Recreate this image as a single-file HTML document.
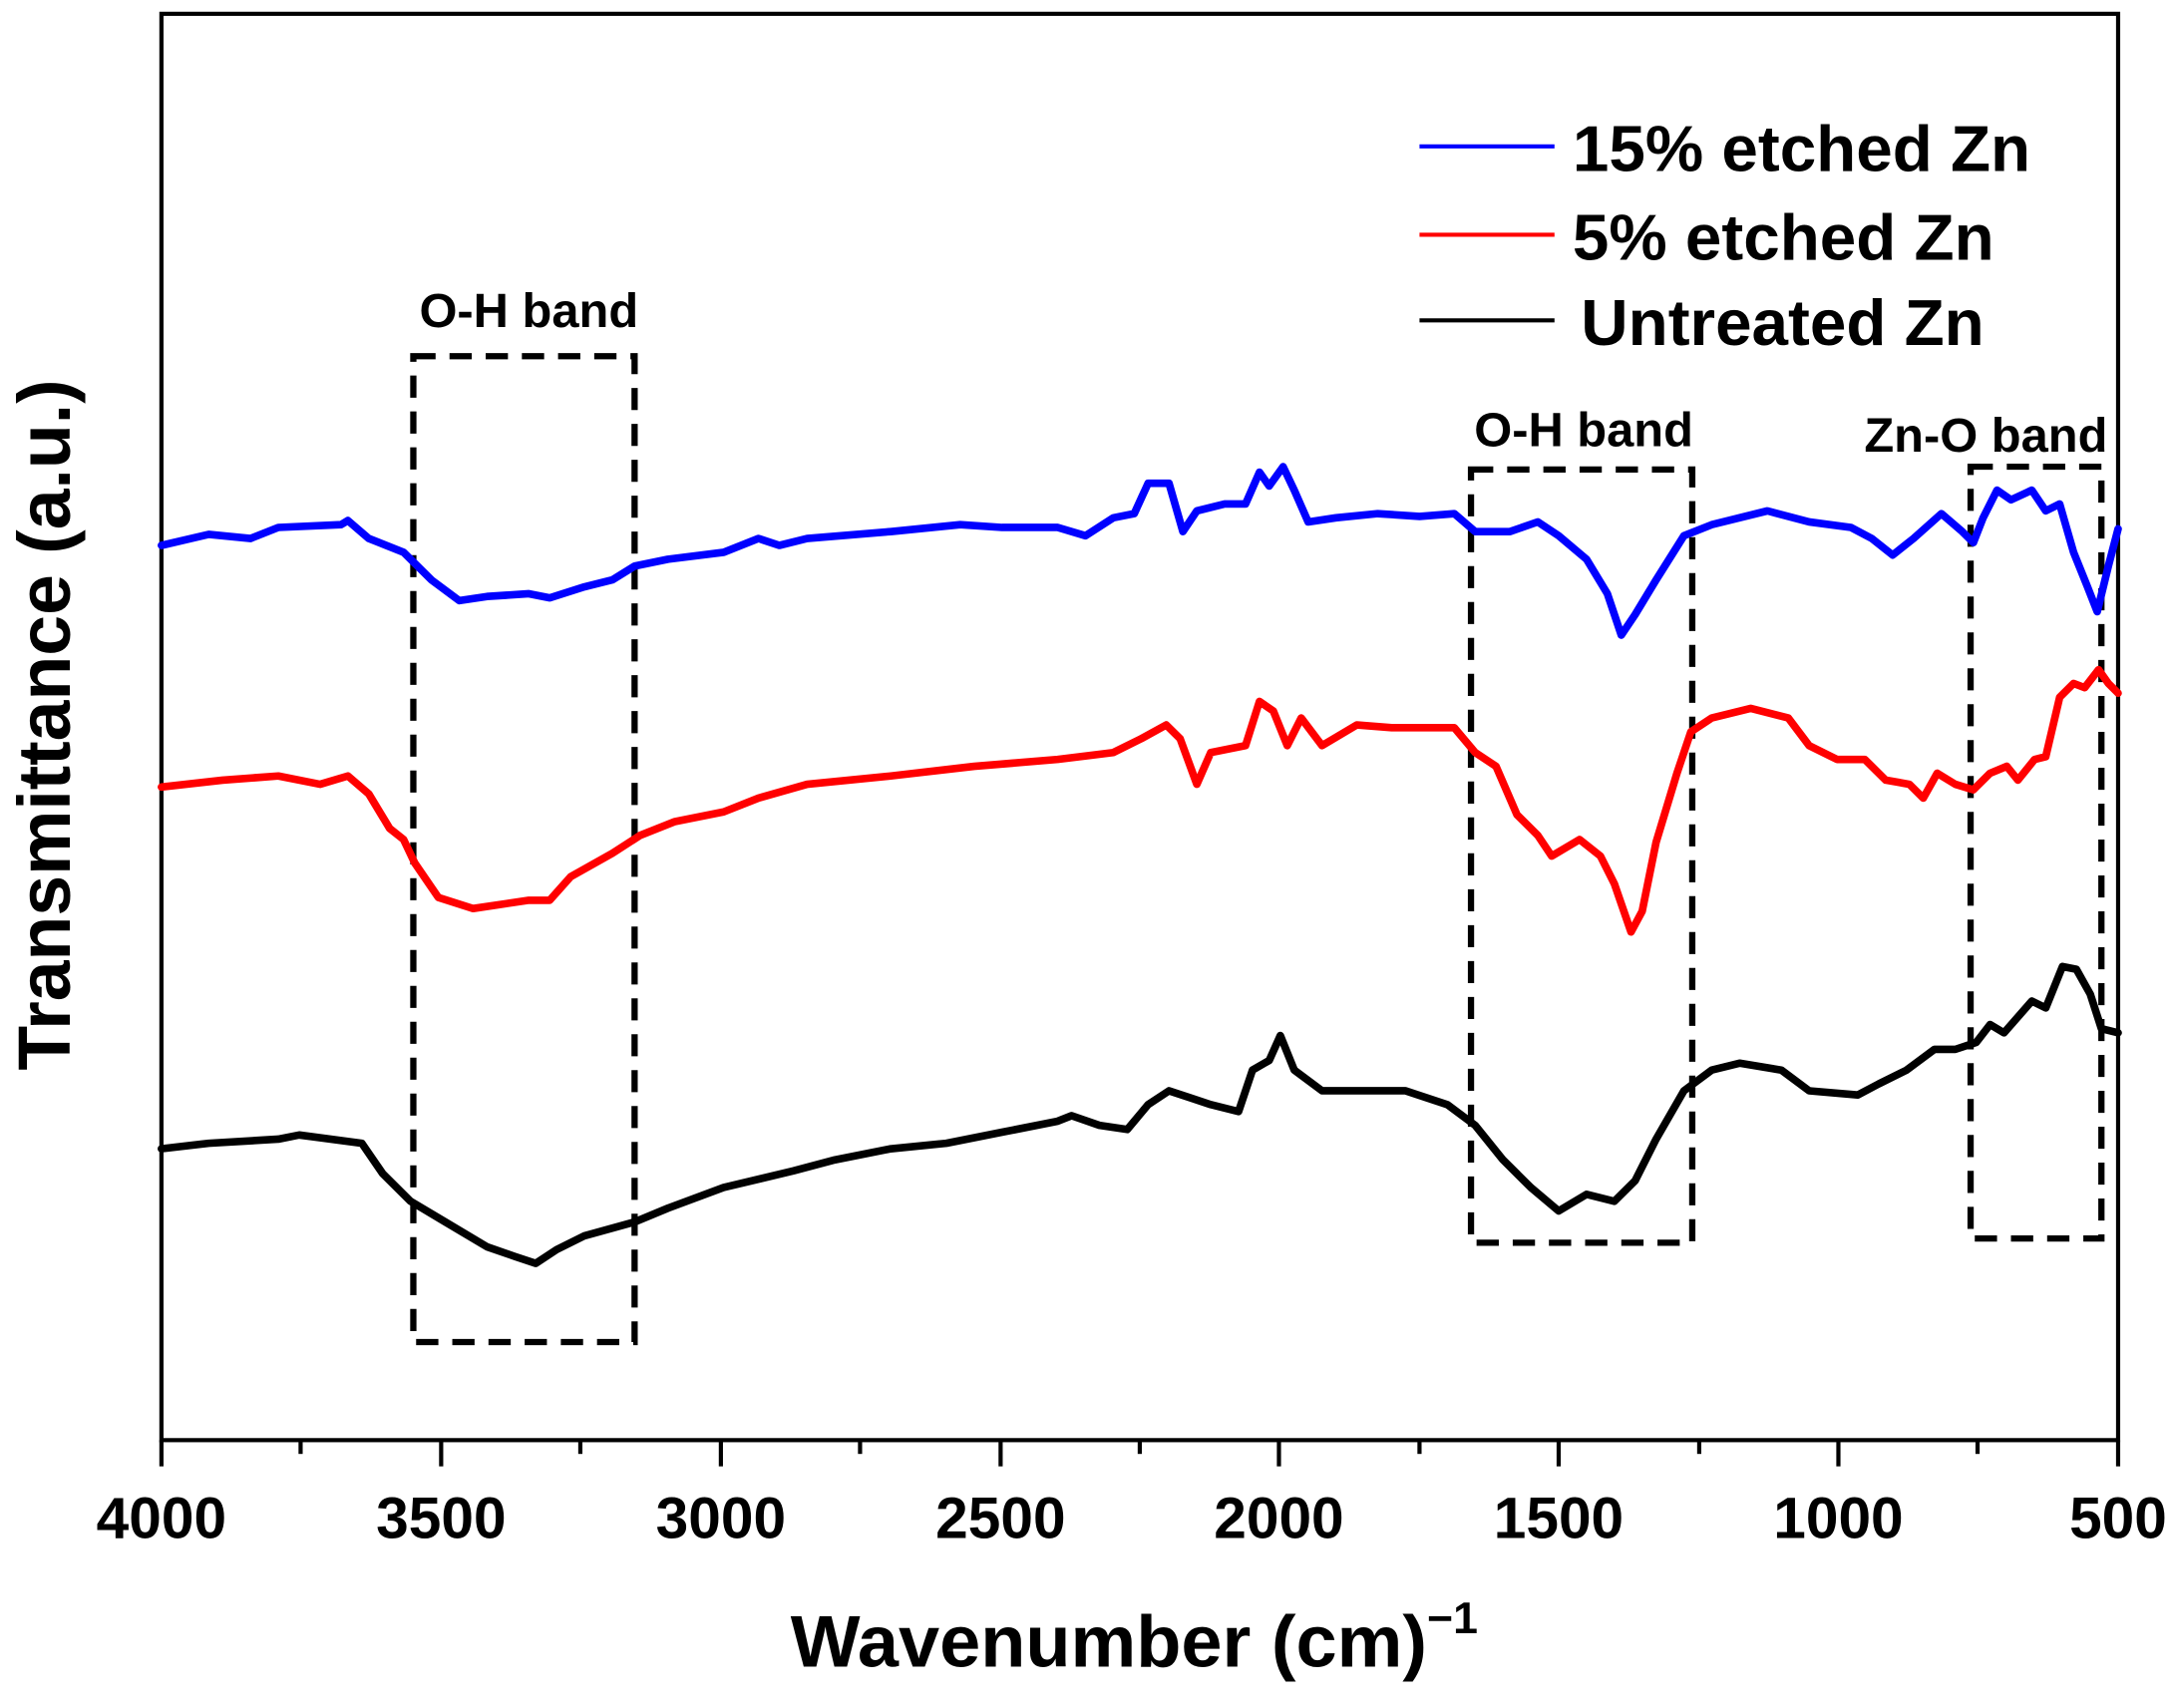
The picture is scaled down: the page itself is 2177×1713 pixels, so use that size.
<!DOCTYPE html>
<html><head><meta charset="utf-8"><style>html,body{margin:0;padding:0;background:#fff;}svg{display:block}</style></head>
<body>
<svg width="2177" height="1713" viewBox="0 0 1560 1237" preserveAspectRatio="none" xmlns="http://www.w3.org/2000/svg" font-family="Liberation Sans, Arial, sans-serif" font-weight="bold">
<rect width="1560" height="1237" fill="#fff"/>
<rect x="116" y="10" width="1406" height="1033" fill="none" stroke="#000" stroke-width="3"/>
<g stroke="#000" stroke-width="3">
<line x1="116" y1="1043" x2="116" y2="1062"/><line x1="317" y1="1043" x2="317" y2="1062"/><line x1="518" y1="1043" x2="518" y2="1062"/><line x1="719" y1="1043" x2="719" y2="1062"/><line x1="919" y1="1043" x2="919" y2="1062"/><line x1="1120" y1="1043" x2="1120" y2="1062"/><line x1="1321" y1="1043" x2="1321" y2="1062"/><line x1="1522" y1="1043" x2="1522" y2="1062"/>
<line x1="216" y1="1043" x2="216" y2="1053"/><line x1="417" y1="1043" x2="417" y2="1053"/><line x1="618" y1="1043" x2="618" y2="1053"/><line x1="819" y1="1043" x2="819" y2="1053"/><line x1="1020" y1="1043" x2="1020" y2="1053"/><line x1="1221" y1="1043" x2="1221" y2="1053"/><line x1="1421" y1="1043" x2="1421" y2="1053"/>
</g>
<g font-size="42" text-anchor="middle">
<text x="116" y="1114">4000</text><text x="317" y="1114">3500</text><text x="518" y="1114">3000</text><text x="719" y="1114">2500</text><text x="919" y="1114">2000</text><text x="1120" y="1114">1500</text><text x="1321" y="1114">1000</text><text x="1522" y="1114">500</text>
</g>
<text x="815" y="1207" font-size="53" text-anchor="middle">Wavenumber (cm)<tspan font-size="32" dy="-24">−1</tspan></text>
<text transform="translate(50,525) rotate(-90)" font-size="53" text-anchor="middle">Transmittance (a.u.)</text>
<g stroke-width="3"><line x1="1020" y1="106" x2="1117" y2="106" stroke="#0000ff"/><line x1="1020" y1="170" x2="1117" y2="170" stroke="#ff0000"/><line x1="1020" y1="232" x2="1117" y2="232" stroke="#000"/></g>
<g font-size="47"><text x="1130" y="124">15% etched Zn</text><text x="1130" y="188">5% etched Zn</text><text x="1136" y="250">Untreated Zn</text></g>
<g fill="none" stroke="#000" stroke-width="4.5" stroke-dasharray="16,10">
<rect x="297" y="258" width="159" height="714"/><rect x="1057" y="340" width="159" height="560"/><rect x="1416" y="338" width="94" height="559"/>
</g>
<g font-size="35" text-anchor="middle"><text x="380" y="237">O-H band</text><text x="1138" y="323">O-H band</text><text x="1427" y="327">Zn-O band</text></g>
<g fill="none" stroke-width="5.5" stroke-linejoin="round" stroke-linecap="round">
<polyline stroke="#0000ff" points="116,395 150,387 180,390 200,382 245,380 250,377 265,390 290,400 310,420 330,435 350,432 380,430 395,433 420,425 440,420 456,410 480,405 520,400 545,390 560,395 580,390 640,385 690,380 720,382 760,382 780,388 800,375 815,372 825,350 840,350 850,385 860,370 880,365 895,365 905,342 912,352 922,338 930,355 940,378 960,375 990,372 1020,374 1045,372 1060,385 1085,385 1105,378 1120,388 1140,405 1155,430 1165,460 1175,445 1190,420 1210,388 1230,380 1270,370 1300,378 1330,382 1345,390 1360,402 1375,390 1395,372 1410,385 1418,393 1425,375 1435,355 1445,362 1460,355 1470,370 1480,365 1490,400 1500,425 1507,443 1515,410 1522,383"/>
<polyline stroke="#ff0000" points="116,570 160,565 200,562 230,568 250,562 265,575 280,600 290,608 298,625 315,650 340,658 380,652 395,652 410,635 440,618 460,605 485,595 520,588 545,578 580,568 640,562 700,555 760,550 800,545 820,535 838,525 848,535 860,568 870,545 895,540 905,508 915,515 925,540 935,520 950,540 975,525 1000,527 1045,527 1060,545 1075,555 1090,590 1105,605 1115,620 1135,608 1150,620 1160,640 1172,675 1180,660 1190,610 1205,560 1215,530 1230,520 1258,513 1285,520 1300,540 1320,550 1340,550 1355,565 1372,568 1382,578 1392,560 1405,568 1418,572 1430,560 1442,555 1450,565 1462,550 1470,548 1480,505 1490,495 1498,498 1508,485 1515,495 1522,502"/>
<polyline stroke="#000" points="116,832 150,828 200,825 215,822 260,828 275,850 295,870 320,885 350,903 370,910 385,915 400,905 420,895 456,885 480,875 520,860 570,848 600,840 640,832 680,828 720,820 760,812 770,808 790,815 810,818 825,800 840,790 855,795 870,800 890,805 900,775 912,768 920,750 930,775 950,790 990,790 1010,790 1040,800 1060,815 1080,840 1100,860 1120,877 1140,865 1160,870 1175,855 1190,825 1210,790 1230,775 1250,770 1280,775 1300,790 1335,793 1350,785 1370,775 1390,760 1405,760 1420,755 1430,742 1440,748 1460,725 1470,730 1482,700 1492,702 1502,720 1510,745 1522,748"/>
</g>
</svg>
</body></html>
